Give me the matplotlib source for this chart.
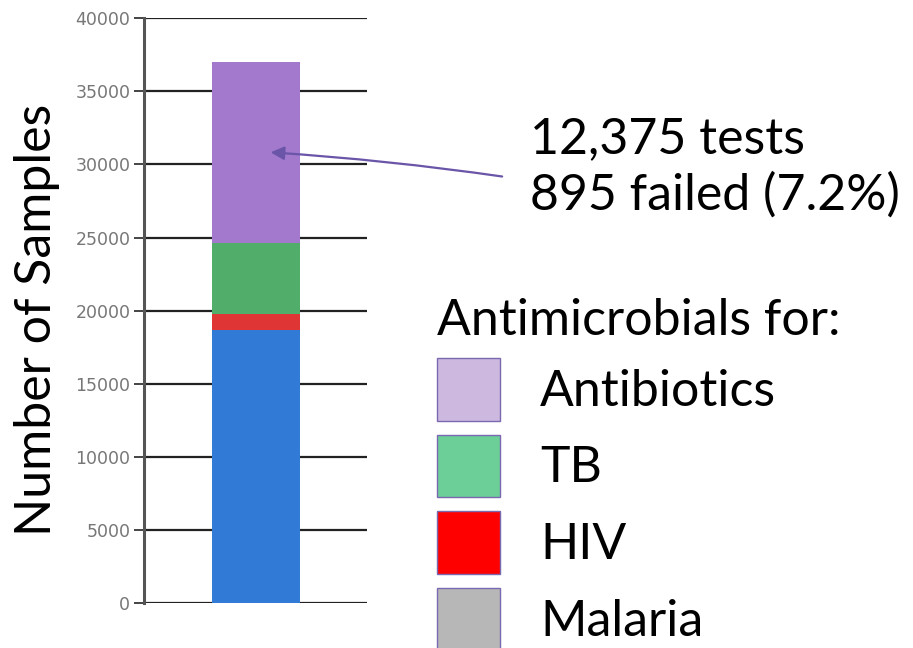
import matplotlib.pyplot as plt
from matplotlib.patches import Patch

# stacked segments, bottom to top
segments = ['Malaria', 'HIV', 'TB', 'Antibiotics']
counts = [18700, 1050, 4850, 12375]
bar_colors = ['#317bd6', '#e03535', '#50ad6a', '#a279cc']
legend_colors = {'Antibiotics': '#cdb9df', 'TB': '#6ccf98', 'HIV': '#ff0000', 'Malaria': '#b7b7b7'}
yticks = [0, 5000, 10000, 15000, 20000, 25000, 30000, 35000, 40000]
note = '12,375 tests\n895 failed (7.2%)'

big = 36
fig = plt.figure(figsize=(9.13, 6.48), dpi=100)
ax = fig.add_axes([0.158, 0.069, 0.244, 0.903])

bottom = 0
for name, val, col in zip(segments, counts, bar_colors):
    ax.bar(0, val, bottom=bottom, width=0.79, color=col, zorder=3)
    bottom += val

ax.set_xlim(-1, 1)
ax.set_ylim(0, 40000)
ax.set_yticks(yticks)
ax.set_xticks([])
ax.yaxis.grid(True, color='#222222', linewidth=1.6, zorder=0)
for s in ['top', 'right', 'bottom']:
    ax.spines[s].set_visible(False)
ax.spines['left'].set_color('#555555')
ax.spines['left'].set_linewidth(2.2)
ax.tick_params(axis='y', colors='#444444', labelsize=12.5, length=7, width=1.4,
               labelcolor='#777777', pad=3)
ax.set_ylabel('Number of Samples', fontsize=big, fontfamily='Lato', labelpad=11)
ax.yaxis.label.set_y(0.484)

# callout
ax.annotate('', xy=(0.11, 30840), xycoords='data',
            xytext=(0.553, 0.727), textcoords='figure fraction',
            arrowprops=dict(arrowstyle='-|>', color='#6a55a8', lw=1.6,
                            mutation_scale=20,
                            connectionstyle='arc3,rad=0.02'))
fig.text(0.58, 0.742, note, fontsize=big, fontfamily='Lato', va='center',
         linespacing=1.25)

handles = [Patch(facecolor=legend_colors[n], edgecolor='#7a68b0', linewidth=1)
           for n in segments[::-1]]
leg = fig.legend(handles, segments[::-1], loc='upper left',
                 bbox_to_anchor=(0.4786, 0.54), frameon=False,
                 title='Antimicrobials for:', alignment='left',
                 prop={'family': 'Lato', 'size': big},
                 title_fontproperties={'family': 'Lato', 'size': big},
                 handlelength=1.26, handleheight=1.55, labelspacing=0.28,
                 handletextpad=0.8, borderaxespad=0, borderpad=0)

fig.savefig('out.png', dpi=100)
